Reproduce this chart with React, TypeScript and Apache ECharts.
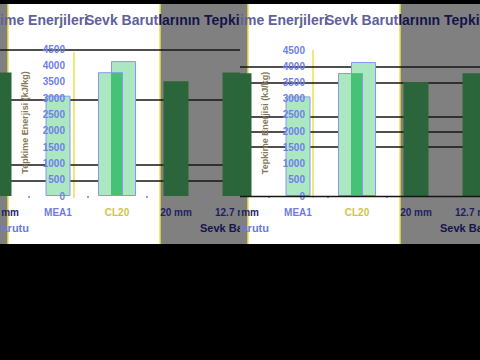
import React, { useEffect, useRef } from 'react';
import * as echarts from 'echarts';

// ---- data ----
const categories = ['7.62 mm', 'MEA1', 'CL20', '20 mm', '12.7 mm'];
const sevkValues: (number | null)[] = [3780, 3070, null, 3510, 3780];
const cl20Front: (number | null)[] = [null, null, 3790, null, null];
const cl20Back: (number | null)[] = [null, null, 4130, null, null];
const leftLineValues = [4470, 2940, 950, 460];
const rightLineValues = [3975, 3485, 2435, 1975, 1510];
const yMin = 0;
const yMax = 4500;
const yInterval = 500;
const chartTitle = 'Sevk Barutlarının Tepkime Enerjileri';
const titleSplit = 10; // "Sevk Barut" | "larının Tepkime Enerjileri"
const yAxisTitle = 'Tepkime Enerjisi (kJ/kg)';
const xAxisTitle = 'Sevk Barutu';

// ---- styles ----
const FONT = 'Liberation Sans';
const TITLE_FONT = `bold 14px "${FONT}"`;
const LIGHT = '#abe8c2';
const MEDIUM = '#45c178';
const DARK = '#2b663a';
const BLUE_EDGE = '#8c96ee';
const GRAY = '#808080';
const YELLOW = '#ece04a';
const TEXT_LIGHT = '#60609c';
const TEXT_DARK = '#14144e';

function barStyle(cat: string) {
  if (cat === 'MEA1') return { color: LIGHT, borderColor: BLUE_EDGE, borderWidth: 1 };
  return { color: DARK };
}
function labelColor(cat: string) {
  if (cat === 'MEA1') return '#6e7ae8';
  if (cat === 'CL20') return '#d4c24a';
  return '#1e1e66';
}

function measure(text: string, font: string) {
  const c = document.createElement('canvas').getContext('2d');
  if (!c) return text.length * 7;
  c.font = font;
  return c.measureText(text).width;
}

type PanelCfg = { top: number; height: number; lines: number[]; axisLine: boolean; yellowMid: number; yTop: number };

function buildOption(p: PanelCfg) {
  const graphic: any[] = [];
  const head = chartTitle.slice(0, titleSplit);
  const tail = chartTitle.slice(titleSplit);
  const headW = measure(head, TITLE_FONT);

  // backgrounds
  graphic.push({ type: 'rect', z: 0, shape: { x: 0, y: 0, width: 8, height: 360 }, style: { fill: GRAY } });
  graphic.push({ type: 'rect', z: 0, shape: { x: 8, y: 0, width: 152, height: 360 }, style: { fill: '#ffffff' } });
  graphic.push({ type: 'rect', z: 0, shape: { x: 160, y: 0, width: 100, height: 360 }, style: { fill: GRAY } });
  // yellow edges
  [
    [8, 4, 244],
    [p.yellowMid, p.yTop, 198],
    [160, 4, 244],
  ].forEach(([x, y1, y2]) => {
    graphic.push({ type: 'line', z: 1, shape: { x1: x, y1, x2: x, y2 }, style: { stroke: YELLOW, lineWidth: 1.5 } });
  });
  // titles
  graphic.push({
    type: 'text', z: 1, x: 88, y: 20,
    style: { text: chartTitle, font: TITLE_FONT, textAlign: 'right', textVerticalAlign: 'middle', fill: TEXT_LIGHT },
  });
  graphic.push({
    type: 'text', z: 1, x: 85, y: 20,
    style: { text: head, font: TITLE_FONT, textAlign: 'left', textVerticalAlign: 'middle', fill: TEXT_LIGHT },
  });
  graphic.push({
    type: 'text', z: 1, x: 85 + headW, y: 20,
    style: { text: tail, font: TITLE_FONT, textAlign: 'left', textVerticalAlign: 'middle', fill: TEXT_DARK },
  });
  // x axis titles
  graphic.push({
    type: 'text', z: 5, x: 29, y: 228,
    style: { text: xAxisTitle, font: `bold 11px "${FONT}"`, textAlign: 'right', textVerticalAlign: 'middle', fill: '#6a78e0' },
  });
  graphic.push({
    type: 'text', z: 5, x: 200, y: 228,
    style: { text: xAxisTitle, font: `bold 11px "${FONT}"`, textAlign: 'left', textVerticalAlign: 'middle', fill: TEXT_DARK },
  });
  if (p.axisLine) {
    graphic.push({ type: 'line', z: 5, shape: { x1: 0, y1: 196.5, x2: 240, y2: 196.5 }, style: { stroke: '#151515', lineWidth: 1.5 } });
  }
  graphic.push({ type: 'rect', z: 30, shape: { x: 0, y: 0, width: 240, height: 4 }, style: { fill: '#000' } });
  graphic.push({ type: 'rect', z: 30, shape: { x: 0, y: 244, width: 240, height: 116 }, style: { fill: '#000' } });

  return {
    animation: false,
    backgroundColor: '#000',
    textStyle: { fontFamily: FONT },
    grid: { left: -30.5, top: p.top, width: 295, height: p.height, containLabel: false, outerBoundsMode: 'none' },
    xAxis: [
      {
        type: 'category', data: categories, z: 4,
        axisLine: { show: false },
        axisTick: { show: true, length: 2, lineStyle: { color: '#6a78e0', width: 1.5 } },
        axisLabel: {
          fontSize: 10, fontWeight: 'bold', fontFamily: FONT, margin: 11,
          color: (v: string) => labelColor(v),
        },
      },
      { type: 'category', data: categories, show: false },
    ],
    yAxis: {
      type: 'value', min: yMin, max: yMax, interval: yInterval, offset: -99.5, z: 4,
      axisLine: { show: false }, axisTick: { show: false }, splitLine: { show: false },
      axisLabel: { fontSize: 10, fontWeight: 'bold', fontFamily: FONT, color: '#7080e8', margin: 4, formatter: (v: number) => String(v) },
      name: yAxisTitle, nameLocation: 'middle', nameRotate: 90, nameGap: 40,
      nameTextStyle: { fontSize: 9, fontWeight: 'bold', fontFamily: FONT, color: '#857a55' },
    },
    series: [
      {
        type: 'bar', xAxisIndex: 0, barWidth: 25, z: 2,
        emphasis: { disabled: true },
        data: sevkValues.map((v, i) => (v == null ? null : { value: v, itemStyle: barStyle(categories[i]) })),
        markLine: {
          silent: true, symbol: ['none', 'none'], z: 1,
          label: { show: false },
          lineStyle: { color: '#151515', width: 1.5, type: 'solid' },
          emphasis: { disabled: true },
          data: p.lines.map((v) => ({ yAxis: v })),
        },
      },
      {
        type: 'bar', xAxisIndex: 1, barWidth: 25, barGap: '-48%', z: 3,
        emphasis: { disabled: true },
        itemStyle: {
          color: {
            type: 'linear', x: 0, y: 0, x2: 1, y2: 0,
            colorStops: [
              { offset: 0, color: LIGHT }, { offset: 0.52, color: LIGHT },
              { offset: 0.521, color: MEDIUM }, { offset: 1, color: MEDIUM },
            ],
          },
          borderColor: BLUE_EDGE, borderWidth: 1,
        },
        data: cl20Front,
      },
      {
        type: 'bar', xAxisIndex: 1, barWidth: 25, barGap: '-48%', z: 2,
        emphasis: { disabled: true },
        itemStyle: { color: LIGHT, borderColor: BLUE_EDGE, borderWidth: 1 },
        data: cl20Back,
      },
    ],
    graphic,
  };
}

function Panel({ left, cfg }: { left: number; cfg: PanelCfg }) {
  const ref = useRef<HTMLDivElement>(null);
  useEffect(() => {
    const chart = echarts.init(ref.current!, null, { renderer: 'svg' });
    chart.setOption(buildOption(cfg) as any);
    return () => chart.dispose();
  }, []);
  return <div ref={ref} style={{ position: 'absolute', left, top: 0, width: 240, height: 360 }} />;
}

export default function App() {
  return (
    <div style={{ position: 'fixed', left: 0, top: 0, width: 480, height: 360, background: '#000', overflow: 'hidden' }}>
      <Panel left={0} cfg={{ top: 49, height: 147, lines: leftLineValues, axisLine: false, yellowMid: 74, yTop: 52 }} />
      <Panel left={240} cfg={{ top: 50, height: 146, lines: rightLineValues, axisLine: true, yellowMid: 73, yTop: 50 }} />
    </div>
  );
}
